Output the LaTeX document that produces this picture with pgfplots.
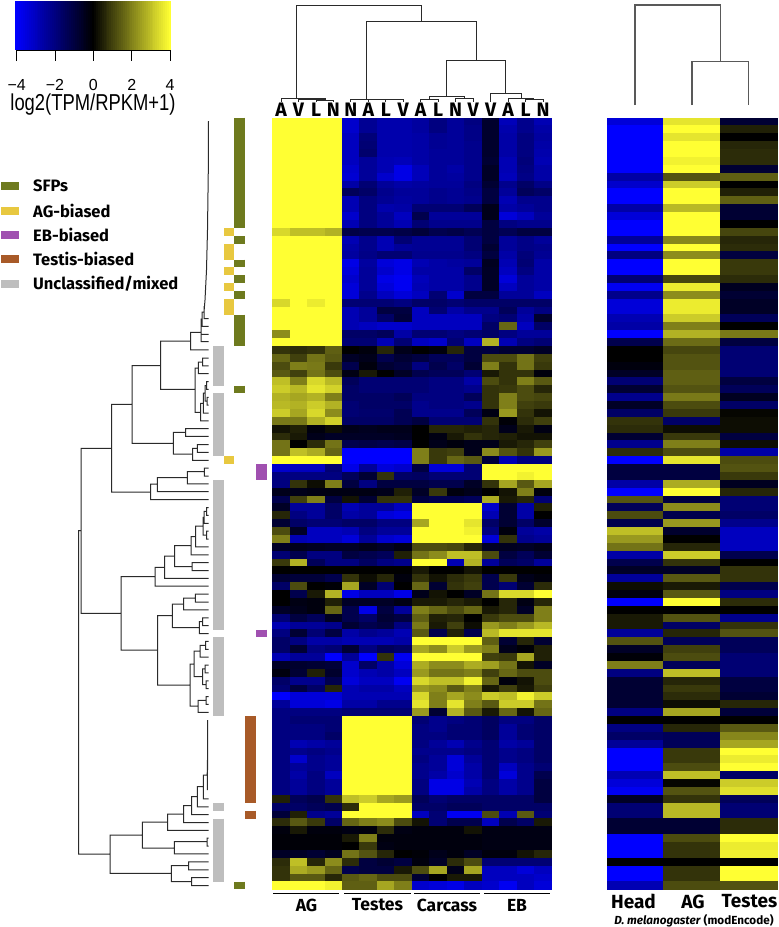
\documentclass[border=0pt]{standalone}
\usepackage{fontspec}
\usepackage{pgfplots}
\usepackage{pgfplotstable}
\pgfplotsset{compat=1.18}
\setmainfont{Liberation Sans}
\newfontfamily\fira{Fira Sans}
\pgfplotstableread{
c1 c2 c3 c4 c5 c6 c7 c8 c9 c10 c11 c12 c13 c14 c15 c16
4 4 4 4 -3.2 -2.3 -2.7 -2.7 -2.5 -2.0 -2.4 -2.0 -0.7 -2.9 -2.2 -2.8
4 4 4 4 -3.2 -2.3 -2.7 -2.7 -2.5 -2.0 -2.4 -2.1 -0.7 -2.7 -2.2 -2.6
4 4 4 4 -3 -1.9 -2.7 -2.7 -2.6 -2.3 -2.4 -2.1 -0.7 -2.6 -2.0 -2.5
4 4 4 4 -3 -1.8 -2.7 -2.7 -2.6 -2.3 -2.4 -2.2 -0.7 -2.6 -2.0 -2.6
4 4 4 4 -3 -1.7 -2.7 -2.7 -2.6 -2.4 -2.4 -2.2 -0.7 -2.6 -2.0 -2.7
4 4 4 4 -3.0 -2.4 -2.8 -2.9 -2.6 -2.4 -2.4 -2.2 -0.8 -2.8 -1.9 -2.8
4 4 4 4 -3.2 -2.4 -2.8 -3.6 -2.9 -2.4 -2.6 -2.2 -0.6 -2.8 -2.0 -2.6
4 4 4 4 -3.3 -2.4 -3.2 -3.6 -2.9 -2.4 -2.5 -2.2 -0.6 -2.9 -2.1 -2.6
4 4 4 4 -2.6 -1.8 -2.4 -2.6 -2.5 -2.4 -2.4 -2.0 -0.8 -2.2 -1.6 -2.1
4 4 4 4 -1.4 -1.6 -2.2 -2.4 -2.4 -2.2 -2.3 -2.1 -1 -2.4 -1.4 -1.6
4 4 4 4 -2.8 -2.0 -2.3 -2.5 -2.4 -2.2 -2.3 -2.2 -1 -2.8 -2.2 -2.2
4 4 4 4 -2.8 -2.0 -2.7 -2.6 -1.8 -1.8 -1.8 -1.4 -0.4 -2.6 -2.4 -2.2
4 4 4 4 -3.2 -2 -2.4 -3 -1.2 -2.4 -2.4 -2.4 -0.4 -3.4 -3 -2.4
4 4 4 4 -2.8 -2 -2.4 -2.8 -1.8 -2.2 -2.2 -2.2 -1 -2 -2.2 -2.2
3.4 3.0 3.0 2.8 -1.1 -1.2 -1.2 -1.1 -0.9 -1.2 -1.1 -1.3 -1 -1.3 -1 -1
4 4 4 4 -2.8 -2.2 -2.8 -1.8 -2.3 -2.3 -2.3 -1.8 -1 -2.4 -2.1 -2.4
4 4 4 4 -2.6 -2.2 -2.8 -2.4 -2.3 -2.3 -2.3 -1.8 -0.8 -2.4 -2.1 -2.2
4 4 4 4 -2.5 -2.1 -1.8 -1.8 -2.2 -2.2 -2.2 -2 -1 -2.6 -1.9 -2.3
4 4 4 4 -3.6 -2.5 -3.4 -3.6 -2.8 -2.6 -2.5 -2.4 -0.5 -2.8 -1.8 -2.6
4 4 4 4 -3.4 -2.4 -3.2 -3.6 -2.6 -2.6 -2.6 -1.6 -0.6 -3 -2 -2.6
4 4 4 4 -3.2 -2.4 -3.6 -3.8 -2.9 -2.6 -2.6 -2.2 -0.6 -3.4 -2.4 -2.6
4 4 4 4 -3.4 -2.4 -3.4 -3.8 -2.8 -2.6 -2.6 -2.2 -0.6 -3 -2.4 -2.6
4 4 4 4 -3.4 -2.2 -3 -3.4 -3 -1.8 -3.2 -1 -1 -2.4 -2.4 -3
3.4 4 3.7 4 -1.8 -1.8 -1.8 -2 -1.6 -1.6 -1.8 -1.6 -1.6 -1.6 -1.6 -1.6
4 4 4 4 -2.8 -2.4 -1 -1 -3 -1.8 -2.6 -2.2 -2.2 -1.4 -2.4 -2
4 4 4 4 -2.8 -2.4 -1.6 -0.9 -3 -3 -3 -3 -2.0 -1.8 -2.6 -0.7
4 4 4 4 -2.8 -3 -3.2 -3.2 -3 -3 -3 -3 -1.6 1.6 -3 -1.6
2.2 4 4 4 -1.6 -1.6 -1.4 -2.6 -1.8 -1.8 -2 -1.8 -1.6 -2 -2.4 -2.4
4 4 4 4 -1.8 -1.8 -2.8 -1.8 -3 -3.2 -1.8 -3 2.8 -2.8 -2 -1.8
0.8 0.7 0.8 1.5 0 -0.2 0.6 -0.4 0 -0.2 0.6 -1 -1 -0.8 -0.8 -0.6
1.6 1.0 1.8 1.4 -0.6 -0.4 -1.2 -0.8 -1.0 -1.4 -1.4 -1 1.2 1.2 1.8 1.0
1.2 2 1.9 0.9 -1.2 -0.2 -0.8 -1 -2 -1.2 -1.6 -0.8 2 0.8 1.8 0.9
1.4 1.0 1.8 1.2 -0.3 0.4 0 -0.6 -1.2 -1.4 -1.4 -1.8 0.4 0.8 0.8 -0.2
3 2 3.4 2.9 -1.4 -1.8 -1.8 -1.8 -1.8 -2 -2 -2.6 1.2 0.8 2 1.4
3.2 2.9 3.6 3.3 -1.6 -1.8 -1.8 -1.8 -1.8 -2 -2 -2.2 0.8 0.9 1.2 0.6
2.8 2.6 2.8 2 -1.6 -1.6 -1.6 -1.4 -2 -2 -2 -1.4 0.8 2 1.2 1.1
2.9 2.8 3.2 2.8 -1.8 -1.6 -1.6 -1.6 -2.2 -2 -2 -2.2 0.8 2 1 0.9
3.2 2.6 3.4 2.2 -1.8 -1.7 -1.7 -1.3 -2.2 -2.2 -2.2 -1.4 -0.3 2.4 0.8 0.3
1.9 1.9 2.8 3.3 -1.6 -1.6 -1.6 -1.3 -1 -1.8 -1.8 -1.8 0.8 -0.1 0.7 1.0
0.3 0.5 -0.2 0.2 -0.4 -0.5 -0.4 -0.4 0 0.6 0.6 0.5 0.6 -0.4 0.4 -0.3
0.7 0.4 -0.4 -0.6 -0.6 -0.6 -0.6 -0.5 0 -0.3 0.4 0.8 0.6 0.5 0.3 0.3
1.8 0 0.7 1.8 -1.2 -1.1 -1.2 -1.1 0 -0.4 -0.2 -0.4 -0.4 0.4 0.6 1
1.8 3 2.7 1.6 -4 -4 -4 -4 2 0.9 1 -0.4 2.2 1.3 0.8 2.4
4 4 4 4 -4 -4 -4 -4 2 0.9 1.6 1.4 -0.9 -2.8 -2.0 -2.0
-3.2 -3 -3 -1.8 -3.6 -2.4 -3.4 -3.2 -1 -3.4 -3.4 -1.8 4 4 4 4
-2 -2 -2 -2 -1.4 -0.8 0.8 -1.6 -1.5 -1.8 -1.8 -1.8 4 4 3.8 4
-2 0.8 0.2 2 -1 -2 -1 -1 -1 -1.2 -1.2 -0.6 0.8 2.6 1.4 2.6
-0.4 -0.4 -0.3 -0.3 -0.3 -0.3 -0.4 0.5 -0.6 0.9 -0.2 -0.4 0 0.3 2 -0.2
-1.2 1 2 -1 0.3 -0.8 0.8 0.8 -1 -1.2 -1.2 -1.4 2.7 0.4 0.6 -1.8
-0.6 -2.4 -2.4 -1.6 -2.8 -2.4 -2.4 -3 4 4 4 4 -3.2 -0.8 -2.6 0.5
0.6 -2 -2.4 -1.6 -2.6 -2.4 -3.4 -3.6 4 4 4 4 -2.8 -0.8 -2.6 0
-0.8 -1.6 -1.8 -1.8 -1.6 -1.6 -2 -2 2.6 4 4 3.6 -1.6 -0.8 -1.6 -0.7
1.2 -0.6 -3 -3 -2.8 -2 -2.4 -2.4 4 4 4 3.8 -2 -0.2 -2.4 -2.6
2 -2.8 -3 -3 -3.4 -2.4 -3.2 -3.4 4 4 4 4 -3.4 0.8 -2.2 -2.4
-0.6 -0.4 -0.5 -0.6 -0.6 -0.4 -0.6 -0.3 1.2 1.2 1.1 0.6 -0.6 -0.5 -0.6 -0.4
-1.8 -1.2 -2 -2 -1 -1.2 -1.4 0.5 1.8 2.2 3 3 1.2 -1 -1.4 -0.8
0.9 2.8 -1.4 -2 -2 -1.5 -2 -2.2 4 4 -2.8 2.8 -2.4 -1.4 -1.6 -2.4
0 0 0 0 0 0 0 0 0.4 0 0 0.3 0 0 0 0
-0.8 -0.9 -0.9 -1.2 0.8 0.2 0.6 -0.2 0.8 0.3 0.7 0.9 -1.2 0.9 -0.4 -0.2
-1.6 1.2 0 -0.1 2.6 -0.6 -1.8 0 1.6 -0.8 0.8 1 -1.2 -1.8 -0.8 0.7
0 -1.2 0.4 2.8 -3.6 -3 -3 -3.6 -0.4 0.3 0 -0.6 1.8 3.4 3.4 4
0 -0.3 -0.2 0.5 -0.6 -0.6 -0.6 -0.3 0.4 0.4 0.6 0.4 0 0.6 -0.3 0.6
-0.6 -0.4 -0.2 1.6 -1.2 -3.6 -1.0 -2.4 2 1.6 1.2 1.6 0.4 0.6 -0.6 2
-1.8 -1 -1.4 -0.5 -1.2 -1.6 -0.8 -1 1.5 0.5 0.6 0 0.9 1.2 1.2 2
-2.8 -2.4 -2.4 -2.2 -0.8 -1.2 -1 -2 1.9 0.4 1.0 0.2 2.4 2 2.4 2.9
-2.0 -0.8 -1.8 -1 -2.6 -2.2 -2.4 -2.8 1.4 -1.2 0.5 -1.2 2.9 3.6 3.6 3.6
-1.6 -2 -2.6 -2.6 -2.8 -2.8 -2.8 -2.6 4 4 4 4 1.5 -0.8 0.6 -0.8
-1.6 -0.8 -2 -1.8 -0.8 -2.0 -1.4 -1.6 2.6 2.2 3.2 2.4 2 -0.4 -0.1 0.5
-2.8 -2.4 -2.4 -4 -2.4 -4 0.8 -3.8 4 4 4 4 1.0 0.9 2.6 0.5
-0.6 -0.7 -0.8 -0.9 -3.2 -1.6 -2.6 -3.4 2.7 2.2 2.2 2.7 2.5 1.8 0.3 -0.6
-0.2 -0.8 0.5 -0.7 -3.2 -2.8 -2.6 -3 2.4 1.8 1.8 2 1 1.6 1.2 1.2
-1.6 -2.2 -2.2 -1.2 -3.4 -3 -3 -3.8 3.4 3 3 3.8 1.6 -0.2 0.3 1.2
-1.8 -1 -1.6 0.6 -2.8 -2.6 -2.6 -3 2.4 2.2 1.4 2 0.4 1 0.4 1
-4 -3.4 -3.4 -3.4 -2.8 -2.8 -2.8 -2.8 3.4 2 2.6 2.2 3.2 3 3.8 3.2
-2.4 -3.4 -3.4 -3.6 -2.6 -2.6 -2.2 -2.2 3.6 2 3.6 2 1.4 3.2 3.2 1.8
-2 -2 -2 -2 -1.8 -1.8 -1.8 -1.8 2.4 -0.8 2.8 1.4 0.4 1.6 0.3 1.6
-2 -1.8 -1.8 -1.8 4 4 4 4 -1.8 -2.2 -2 -1.8 -1.5 -2 -2 -1.6
-2 -2 -2 -1.8 4 4 4 4 -2 -2.2 -1.8 -1.8 -1.5 -2.4 -1.8 -1.6
-2 -2 -2 -1.6 4 4 4 4 -2 -2.0 -1.8 -1.8 -1.5 -2.4 -1.8 -1.6
-2 -2.8 -2.6 -2.4 4 4 4 4 -2 -2.4 -2.8 -2.2 -1.8 -2.6 -2.4 -1.6
-2 -2.2 -2 -2.2 4 4 4 4 -2.2 -2.2 -2.2 -2 -1.8 -2.2 -2 -1.6
-2 -3.2 -2.2 -2.4 4 4 4 4 -2 -2.4 -3.4 -2.4 -1.8 -2.2 -2 -1.6
-2 -2.4 -2.2 -2.4 4 4 4 4 -2.2 -2.4 -3.4 -2.6 -1.8 -3 -2.2 -1.8
-2 -2.6 -2 -3 4 4 4 4 -2.2 -2.6 -3.2 -2.6 -1.8 -3.4 -2.2 -1.2
-2 -2.4 -2 -2.4 4 4 4 4 -2 -3.6 -3.6 -2.8 -2 -2.6 -2.2 -1
-2 -2.4 -2 -2.4 4 4 4 4 -2 -3.6 -3.6 -2.6 -2 -2.6 -2.2 -1
0.5 -1.4 -1.2 0.8 3 3.2 2.6 2.4 -1.4 -1.8 -1.6 -1.6 -1.6 -1.6 -1.6 -1
-1.6 -1.6 -1.4 -1.2 0.7 4 4 4 -1.6 -1.6 -1.4 -1.4 -1.6 -1.6 -1.6 -1.6
-0.9 0.5 -2.2 -2.4 4 4 4 4 -3 -1.8 -3.8 -3.8 1.2 -2.8 1.4 -1.8
0.7 1.4 0.9 -1.6 1.6 2 2.2 1.2 0.3 -1.8 -1.2 -1.2 -3 -1.2 -1.6 0.4
-0.2 0.4 -0.2 -0.2 -0.3 -0.2 0.7 -0.3 -0.2 -0.2 -0.2 0.3 -0.3 -0.3 -0.3 -0.3
-0.1 -0.1 -0.1 -0.1 0.4 2 -0.2 -0.2 -0.2 -0.2 -0.2 -0.2 -0.3 -0.3 -0.3 -0.3
-0.1 -0.1 -0.1 -0.1 0 0.9 -0.3 -0.2 -0.2 -0.2 -0.2 -0.2 -0.3 -0.3 -0.3 -0.3
-0.6 -0.6 -0.8 -0.5 1.8 1.3 0.6 0 -0.1 -0.4 -0.2 -0.6 -0.2 -0.2 0.3 0.6
0.7 3 0.6 2.2 0.7 -1 -0.8 -1 -0.2 -0.6 0.7 1.2 -1.8 -1.8 -1.8 -1.8
0.8 2.7 2.4 1.6 -1.2 -1 -1 0.4 1.2 2.6 -0.4 2.6 -3 -3 -3.4 -3
0.8 1.4 1.4 0.6 1.4 1.6 1.2 1.2 -0.8 0 0.4 0.4 -3 -3 -3 -3.2
4 4 4 3.8 1.5 1.5 2.6 2 -3.2 -3.4 -3.6 -3 -3.2 -3.8 -3 -3.4
}\heatA
\pgfplotstableread{
c1 c2 c3
-3.4 3.6 -0.8
-4 4 0.5
-4 3.6 0
-4 4 0.6
-4 4 0.7
-4 3.8 0.7
-4 4 -0.8
-2.6 1.3 1.5
-3.2 3.2 0
-4 4 0.5
-4 4 1.5
-2.6 2.9 -0.8
-3.4 4 -0.8
-4 4 0
-4 4 1.1
-2.4 2.1 0.6
-4 4 0.7
-2 2.2 -1
-4 4 0.9
-4 4 0.9
-1.8 1.1 0.7
-3.8 3.7 -0.5
-2.2 2.2 -0.8
-3.4 3.7 -0.6
-3.4 3.7 -0.6
-2.8 3.2 -1.4
-2.6 2 0
-4 2.8 1.9
-1.2 1.7 -1
0 1.1 -1.8
0 1.3 -1.8
-0.2 1.3 -1.8
-0.6 1.5 -1.8
-1.8 1.5 -1.0
-0.8 1.3 -1.4
-2.2 1.9 -0.5
-0.6 1.2 -1.6
-1.6 0.9 0.1
0.8 -1.6 0.2
0.7 0.2 0.2
-0.8 0.9 -1.0
-2.2 2 0.2
0.7 1.2 -2.6
-4 3.6 1.2
-1 -1 1.3
-1 -1 0.9
-2.6 2.7 -0.5
-4 4 0.6
1.3 -1 -1.8
-1.4 2.2 -1.8
1.2 -1.2 -1.6
-1.2 2.4 -2.2
3 -0.7 -3
2.4 0 -3
1.8 0.6 -3
-2.6 3.2 -1.2
-1.2 0.8 0
-0.6 -0.6 0.8
-2.4 1.4 0.8
0.2 0.4 -1.2
-0.2 1.4 -2
-4 4 0.7
0 0 0
0.4 1.3 -2.2
0.4 -1.6 0.8
-2.4 0.6 1.3
1.3 -1.4 -1.4
-0.6 1.0 -1.4
-0.1 1.2 -1.8
2 -1.4 -1.8
-2 3 -1.8
-0.8 0.6 -1
-0.8 0.9 -1
-0.8 0.7 -0.8
-0.8 0.2 0.6
-2 2.6 -0.9
0 0 0
-2 0.6 1.4
-1.6 -1.4 2.1
-2.4 -1.4 2.6
-4 0.9 4
-4 0.9 3.7
-4 1.2 4
-2.8 3 -1.6
-3.4 0.1 3.2
-3.8 1.3 3.5
-0.6 0.8 -1.4
-1.8 2.9 -1.8
-1.8 2.9 -1.8
-0.8 -0.8 0.7
-0.8 -0.8 0.7
-4 1.2 4
-4 0.8 3.7
-4 0.8 3.8
0 0 0
-4 0.8 4
-4 0.8 4
-2.8 1.2 1.3
}\heatB
\definecolor{sfp}{HTML}{6E7A1E}
\definecolor{agb}{HTML}{E8C840}
\definecolor{ebb}{HTML}{A050B0}
\definecolor{tsb}{HTML}{A85A28}
\definecolor{unc}{HTML}{BEBEBE}
\definecolor{dend}{HTML}{2A2A2A}
\begin{document}
\begin{tikzpicture}
\useasboundingbox (0,0) rectangle (779pt,927pt);
\begin{axis}[
  at={(0,0)},anchor=south west,
  width=779pt,height=927pt,scale only axis,
  xmin=0,xmax=779,ymin=0,ymax=927,y dir=reverse,
  hide axis,clip=false,unbounded coords=jump,
  colormap={bky}{rgb255(0)=(0,0,255) rgb255(1)=(0,0,0) rgb255(2)=(255,255,51)},
  point meta min=-4,point meta max=4,
]
% colour key
\addplot[scatter,only marks,scatter src=explicit,mark=square*,mark size=1pt,
  mark options={xscale=1.25,yscale=24.5,draw opacity=0}]
  table[row sep=\\,x expr={93.35+\thisrow{v}*19.165},y expr=25.5,meta=v]{
  v\\-4\\-3.9\\-3.8\\-3.7\\-3.6\\-3.5\\-3.4\\-3.3\\-3.2\\-3.1\\-3\\-2.9\\-2.8\\-2.7\\-2.6\\-2.5\\-2.4\\-2.3\\-2.2\\-2.1\\-2\\-1.9\\-1.8\\-1.7\\-1.6\\-1.5\\-1.4\\-1.3\\-1.2\\-1.1\\-1\\-0.9\\-0.8\\-0.7\\-0.6\\-0.5\\-0.4\\-0.3\\-0.2\\-0.1\\0\\0.1\\0.2\\0.3\\0.4\\0.5\\0.6\\0.7\\0.8\\0.9\\1\\1.1\\1.2\\1.3\\1.4\\1.5\\1.6\\1.7\\1.8\\1.9\\2\\2.1\\2.2\\2.3\\2.4\\2.5\\2.6\\2.7\\2.8\\2.9\\3\\3.1\\3.2\\3.3\\3.4\\3.5\\3.6\\3.7\\3.8\\3.9\\4\\
  };
\addplot[black,line width=0.8pt] coordinates {(16.7,61)(16.7,50)(170,50)(170,61)(nan,nan)(55,50)(55,61)(nan,nan)(93.35,50)(93.35,61)(nan,nan)(131.7,50)(131.7,61)};
% heat map 1
\pgfplotsinvokeforeach{1,...,16}{
  \addplot[scatter,only marks,scatter src=explicit,mark=square*,mark size=1pt,
    mark options={xscale=8.9,yscale=4.1,draw opacity=0}]
    table[x expr={272.3+(#1-0.5)*17.46},y expr={121.64+\coordindex*7.875},meta=c#1]{\heatA};
}
% heat map 2
\pgfplotsinvokeforeach{1,...,3}{
  \addplot[scatter,only marks,scatter src=explicit,mark=square*,mark size=1pt,
    mark options={xscale=28.6,yscale=4.1,draw opacity=0}]
    table[x expr={606.7+(#1-0.5)*56.9},y expr={121.64+\coordindex*7.875},meta=c#1]{\heatB};
}
% annotation strips
\addplot[unc,line width=10.7pt] coordinates {(218.4,346)(218.4,385.5)(nan,nan)(218.4,393.3)(218.4,456.3)(nan,nan)(218.4,480)(218.4,629.6)(nan,nan)(218.4,637.4)(218.4,716.2)(nan,nan)(218.4,802.8)(218.4,810.7)(nan,nan)(218.4,818.6)(218.4,881.6)};
\addplot[agb,line width=10.7pt] coordinates {(229,228)(229,236)(nan,nan)(229,243.7)(229,259.5)(nan,nan)(229,267.3)(229,275.2)(nan,nan)(229,283)(229,291)(nan,nan)(229,299)(229,314.7)(nan,nan)(229,456.3)(229,464.2)};
\addplot[sfp,line width=10.7pt] coordinates {(239.8,117.7)(239.8,228)(nan,nan)(239.8,236)(239.8,243.7)(nan,nan)(239.8,259.5)(239.8,267.3)(nan,nan)(239.8,275.2)(239.8,283)(nan,nan)(239.8,291)(239.8,299)(nan,nan)(239.8,314.7)(239.8,346)(nan,nan)(239.8,385.5)(239.8,393.3)(nan,nan)(239.8,881.6)(239.8,889.4)};
\addplot[tsb,line width=10.7pt] coordinates {(250.7,716.2)(250.7,802.8)(nan,nan)(250.7,810.7)(250.7,818.6)};
\addplot[ebb,line width=10.7pt] coordinates {(261.5,464.2)(261.5,480)(nan,nan)(261.5,629.6)(261.5,637.4)};
% legend swatches
\addplot[sfp,line width=8pt] coordinates {(1,186)(19.3,186)};
\addplot[agb,line width=8pt] coordinates {(1,210.7)(19.3,210.7)};
\addplot[ebb,line width=8pt] coordinates {(1,235.3)(19.3,235.3)};
\addplot[tsb,line width=8pt] coordinates {(1,259.3)(19.3,259.3)};
\addplot[unc,line width=8pt] coordinates {(1,284)(19.3,284)};
% top dendrogram 1
\addplot[dend,line width=1pt] coordinates {
(296.3,99)(296.3,5)(421.3,5)(421.3,21.7)(nan,nan)
(366.3,99)(366.3,21.7)(476.3,21.7)(476.3,60.3)(nan,nan)
(446.7,96.7)(446.7,60.3)(505.3,60.3)(505.3,93)(nan,nan)
(490.7,102)(490.7,93)(521,93)(521,98.5)(nan,nan)
(281,102)(281,98.7)(325,98.7)(325,100)(nan,nan)
(298.5,102)(298.5,99.5)(325,99.5)(nan,nan)
(316,102)(316,100)(333.4,100)(333.4,102)(nan,nan)
(350.9,102)(350.9,99)(385,99)(385,100)(nan,nan)
(368.4,102)(368.4,99)(nan,nan)
(385.8,102)(385.8,99.6)(403.3,99.6)(403.3,102)(nan,nan)
(420.7,102)(420.7,99.3)(438.2,99.3)(438.2,102)(nan,nan)
(429.5,99.3)(429.5,96.7)(464.3,96.7)(464.3,98.3)(nan,nan)
(455.6,102)(455.6,98.3)(473.1,98.3)(473.1,102)(nan,nan)
(508,102)(508,98.7)(533,98.7)(533,99.3)(nan,nan)
(525.5,102)(525.5,99.3)(543,99.3)(543,102)
};
% top dendrogram 2
\addplot[black!65,line width=1.1pt] coordinates {
(635,105)(635,5)(720.3,5)(720.3,61.7)(nan,nan)
(692,105)(692,61.7)(748.7,61.7)(748.7,105)
};
% left dendrogram
\addplot[dend,line width=1pt] coordinates {
(208.5,121)(208.3,170)(207.5,230)(206.5,270)(205,300)(204,312)(nan,nan)
(208.5,318.5)(204,318.5)(204,306)(nan,nan)
(204,312)(202,312)(202,326.4)(208.5,326.4)(nan,nan)
(202,319)(201,319)(201,341.7)(208.5,341.7)(nan,nan)
(201,334.3)(208.5,334.3)(nan,nan)
(201,332.3)(190.7,332.3)(190.7,349.9)(208.5,349.9)(nan,nan)
(190.7,341)(160.7,341)(160.7,389.3)(195,389.3)(nan,nan)
(208.5,358)(202.7,358)(202.7,365.8)(208.5,365.8)(nan,nan)
(202.7,362)(198.3,362)(198.3,373.7)(208.5,373.7)(nan,nan)
(198.3,368)(195,368)(195,412.3)(200.7,412.3)(nan,nan)
(203.3,403.3)(200.7,403.3)(200.7,420.9)(208.5,420.9)(nan,nan)
(205,393)(203.3,393)(203.3,413)(208.5,413)(nan,nan)
(206.5,385.5)(205,385.5)(205,401)(207,401)(nan,nan)
(208.5,381.5)(206.5,381.5)(206.5,389.4)(208.5,389.4)(nan,nan)
(208.5,397.3)(207,397.3)(207,405.2)(208.5,405.2)(nan,nan)
(160.7,365.7)(132,365.7)(132,443.3)(173.3,443.3)(nan,nan)
(185.7,432.3)(173.3,432.3)(173.3,454)(192.7,454)(nan,nan)
(208.5,428.7)(185.7,428.7)(185.7,436.4)(208.5,436.4)(nan,nan)
(197.3,448.3)(192.7,448.3)(192.7,460.3)(208.5,460.3)(nan,nan)
(208.5,444.5)(197.3,444.5)(197.3,452.4)(208.5,452.4)(nan,nan)
(132,404.3)(111.7,404.3)(111.7,492)(150.7,492)(nan,nan)
(157.3,484)(150.7,484)(150.7,499.6)(208.5,499.6)(nan,nan)
(187.3,477.7)(157.3,477.7)(157.3,491.7)(208.5,491.7)(nan,nan)
(204.3,471.7)(187.3,471.7)(187.3,483.8)(208.5,483.8)(nan,nan)
(208.5,468)(204.3,468)(204.3,476)(208.5,476)(nan,nan)
(111.7,448.3)(81,448.3)(81,613.3)(121,613.3)(nan,nan)
(81,530.7)(78.7,530.7)(78.7,854)(110,854)(nan,nan)
(155,576.7)(121,576.7)(121,650)(157.7,650)(nan,nan)
(164.7,567.3)(155,567.3)(155,586.2)(208.5,586.2)(nan,nan)
(174.7,556)(164.7,556)(164.7,578.3)(208.5,578.3)(nan,nan)
(191,545.7)(174.7,545.7)(174.7,566.7)(192,566.7)(nan,nan)
(208.5,562.6)(192,562.6)(192,570.5)(208.5,570.5)(nan,nan)
(195.7,536.7)(191,536.7)(191,554.8)(208.5,554.8)(nan,nan)
(203,526)(195.7,526)(195.7,546.9)(208.5,546.9)(nan,nan)
(204,517.4)(203,517.4)(203,535)(206.5,535)(nan,nan)
(206.5,511.4)(204,511.4)(204,523.3)(208.5,523.3)(nan,nan)
(208.5,507.5)(206.5,507.5)(206.5,515.4)(208.5,515.4)(nan,nan)
(208.5,531.2)(206.5,531.2)(206.5,539)(208.5,539)(nan,nan)
(172.3,615.7)(157.7,615.7)(157.7,685)(190,685)(nan,nan)
(183.7,604)(172.3,604)(172.3,627.7)(199.3,627.7)(nan,nan)
(195.3,598)(183.7,598)(183.7,609.9)(208.5,609.9)(nan,nan)
(208.5,594.1)(195.3,594.1)(195.3,602)(208.5,602)(nan,nan)
(202.7,621.7)(199.3,621.7)(199.3,633.5)(208.5,633.5)(nan,nan)
(208.5,617.8)(202.7,617.8)(202.7,625.6)(208.5,625.6)(nan,nan)
(194,664)(190,664)(190,706)(198,706)(nan,nan)
(200,651)(194,651)(194,676.7)(202.7,676.7)(nan,nan)
(205.5,645.3)(200,645.3)(200,657.1)(208.5,657.1)(nan,nan)
(208.5,641.4)(205.5,641.4)(205.5,649.3)(208.5,649.3)(nan,nan)
(205,668.9)(202.7,668.9)(202.7,684.7)(206,684.7)(nan,nan)
(208.5,665)(205,665)(205,672.9)(208.5,672.9)(nan,nan)
(208.5,680.8)(206,680.8)(206,688.6)(208.5,688.6)(nan,nan)
(206,700.4)(198,700.4)(198,712.3)(208.5,712.3)(nan,nan)
(208.5,696.5)(206,696.5)(206,704.4)(208.5,704.4)(nan,nan)
(207.7,720)(207.5,770)(207,775)(203.3,775)(203.3,798.9)(208.5,798.9)(nan,nan)
(207.3,760)(207.3,790)(nan,nan)
(203.3,786.7)(197.3,786.7)(197.3,806.8)(208.5,806.8)(nan,nan)
(197.3,796.7)(191.7,796.7)(191.7,814.7)(208.5,814.7)(nan,nan)
(191.7,805.7)(183.7,805.7)(183.7,822.6)(208.5,822.6)(nan,nan)
(183.7,814)(167.7,814)(167.7,830.4)(208.5,830.4)(nan,nan)
(167.7,822)(142.3,822)(142.3,848)(174.3,848)(nan,nan)
(207,841.7)(174.3,841.7)(174.3,853.9)(208.5,853.9)(nan,nan)
(208.5,838.2)(207,838.2)(207,846)(208.5,846)(nan,nan)
(142.3,835)(110,835)(110,873.3)(171.3,873.3)(nan,nan)
(188.7,865.7)(171.3,865.7)(171.3,881.6)(191.7,881.6)(nan,nan)
(208.5,861.9)(188.7,861.9)(188.7,869.8)(208.5,869.8)(nan,nan)
(208.5,877.6)(191.7,877.6)(191.7,885.5)(208.5,885.5)
};
% bottom rules
\addplot[black,line width=0.9pt] coordinates {(273.3,893)(339,893)(nan,nan)(344.3,893)(410.7,893)(nan,nan)(414.3,893)(480,893)(nan,nan)(484,893)(550,893)};
% texts
\begin{scope}[every node/.style={font=\fontsize{16}{16}\selectfont,inner sep=0pt}]
\node at (axis cs:16.7,84.5) {−4};
\node at (axis cs:55,84.5) {−2};
\node at (axis cs:93.35,84.5) {0};
\node at (axis cs:131.7,84.5) {2};
\node at (axis cs:170,84.5) {4};
\end{scope}
\node[inner sep=0pt] at (axis cs:93,105) {\scalebox{0.8}[1]{\fontsize{23}{23}\selectfont log2(TPM/RPKM+1)}};
\begin{scope}[every node/.style={font=\fira\bfseries\fontsize{16.5}{16.5}\selectfont,anchor=west,inner sep=0pt}]
\node at (axis cs:33,186) {SFPs};
\node at (axis cs:33,210.7) {AG-biased};
\node at (axis cs:33,235.3) {EB-biased};
\node at (axis cs:33,259.3) {Testis-biased};
\node at (axis cs:33,284) {Unclassified/mixed};
\end{scope}
\begin{scope}[every node/.style={font=\fira\bfseries\fontsize{19.5}{19.5}\selectfont,inner sep=0pt}]
\node at (axis cs:281,110) {A};\node at (axis cs:298.5,110) {V};\node at (axis cs:316,110) {L};\node at (axis cs:333.4,110) {N};
\node at (axis cs:350.9,110) {N};\node at (axis cs:368.4,110) {A};\node at (axis cs:385.8,110) {L};\node at (axis cs:403.3,110) {V};
\node at (axis cs:420.7,110) {A};\node at (axis cs:438.2,110) {L};\node at (axis cs:455.6,110) {N};\node at (axis cs:473.1,110) {V};
\node at (axis cs:490.6,110) {V};\node at (axis cs:508,110) {A};\node at (axis cs:525.5,110) {L};\node at (axis cs:543,110) {N};
\end{scope}
\begin{scope}[every node/.style={font=\fira\bfseries\fontsize{17.5}{17.5}\selectfont,inner sep=0pt}]
\node at (axis cs:306.5,905) {AG};
\node at (axis cs:377.5,905) {Testes};
\node at (axis cs:447,905) {Carcass};
\node at (axis cs:517,905) {EB};
\end{scope}
\begin{scope}[every node/.style={font=\fira\bfseries\fontsize{19}{19}\selectfont,inner sep=0pt}]
\node at (axis cs:633.5,901.5) {Head};
\node at (axis cs:693,901.5) {AG};
\node at (axis cs:749.5,901.5) {Testes};
\end{scope}
\node[font=\fira\bfseries\fontsize{11.7}{11.7}\selectfont,inner sep=0pt] at (axis cs:694,920.5) {\textit{D. melanogaster} (modEncode)};
\end{axis}
\end{tikzpicture}
\end{document}
